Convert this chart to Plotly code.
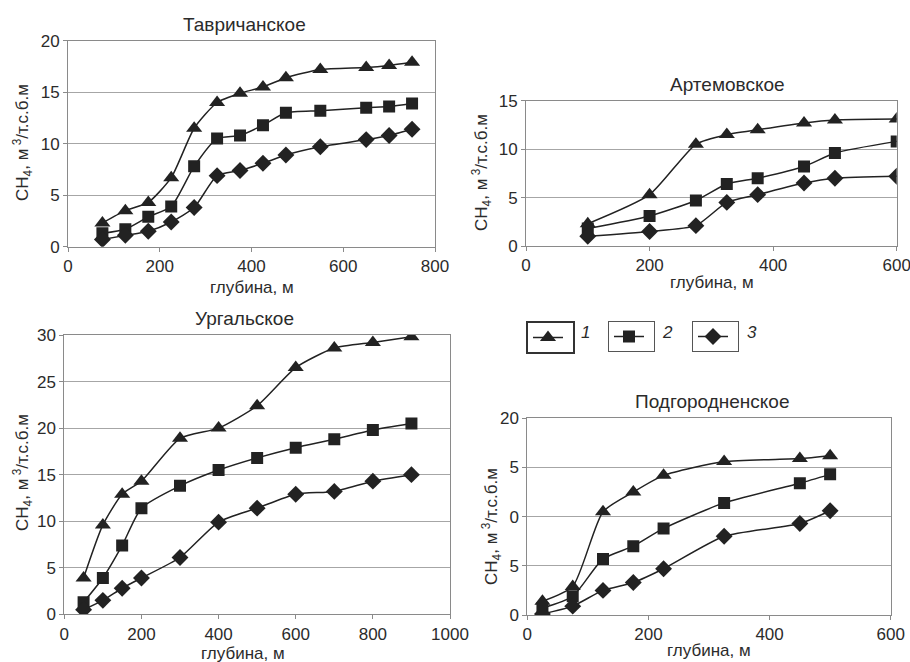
import plotly.graph_objects as go

# ---------------- data ----------------
tav_depth = [75, 125, 175, 225, 275, 325, 375, 425, 475, 550, 650, 700, 750]
tav_1 = [2.3, 3.5, 4.3, 6.7, 11.5, 14.0, 14.9, 15.5, 16.4, 17.2, 17.4, 17.6, 17.9]
tav_2 = [1.3, 1.7, 2.9, 3.9, 7.8, 10.5, 10.8, 11.8, 13.0, 13.2, 13.5, 13.6, 13.9]
tav_3 = [0.7, 1.1, 1.5, 2.4, 3.8, 6.9, 7.4, 8.1, 8.9, 9.7, 10.4, 10.8, 11.4]

art_depth = [100, 200, 275, 325, 375, 450, 500, 600]
art_1 = [2.3, 5.3, 10.5, 11.5, 12.0, 12.7, 13.0, 13.1]
art_2 = [1.8, 3.1, 4.7, 6.4, 7.0, 8.2, 9.6, 10.8]
art_3 = [1.0, 1.5, 2.1, 4.5, 5.3, 6.5, 7.0, 7.2]

urg_depth = [50, 100, 150, 200, 300, 400, 500, 600, 700, 800, 900]
urg_1 = [3.9, 9.6, 12.9, 14.3, 18.9, 20.0, 22.4, 26.5, 28.6, 29.2, 29.8]
urg_2 = [1.3, 3.9, 7.4, 11.4, 13.8, 15.5, 16.8, 17.9, 18.8, 19.8, 20.5]
urg_3 = [0.5, 1.5, 2.8, 3.9, 6.1, 9.9, 11.4, 12.9, 13.2, 14.3, 15.0]

pod_depth = [25, 75, 125, 175, 225, 325, 450, 500]
pod_1 = [1.4, 2.9, 10.5, 12.5, 14.2, 15.6, 15.9, 16.2]
pod_2 = [0.7, 1.9, 5.7, 7.0, 8.8, 11.4, 13.4, 14.3]
pod_3 = [0.1, 0.9, 2.5, 3.3, 4.7, 8.0, 9.3, 10.6]

series_names = ["1", "2", "3"]
titles = ["Тавричанское", "Артемовское", "Ургальское", "Подгородненское"]
x_title = "глубина, м"
y_title = "CH<sub>4</sub>, м<sup> 3</sup>/т.с.б.м"

tav_yticks = [0, 5, 10, 15, 20]
art_yticks = [0, 5, 10, 15]
urg_yticks = [0, 5, 10, 15, 20, 25, 30]
pod_yticks = [0, 5, 10, 15, 20]
pod_yticktext = ["0", "5", "0", "5", "20"]  # clipped labels as in the source

W, H = 910, 662
INK = "#222222"
TXT = "#2b2b2b"
FONT = "Liberation Sans, Arial, sans-serif"

symbols = ["triangle-up", "square", "diamond"]
sizes = [14, 12, 13]

panels = [
    dict(depth=tav_depth, ys=[tav_1, tav_2, tav_3], px=(68, 435), py=(40.7, 246.7),
         xr=[0, 800], xd=200, yr=[0, 20], yt=tav_yticks, ytt=None,
         title_xy=(244, 24), xt_xy=(252, 287), yt_xy=(22, 143)),
    dict(depth=art_depth, ys=[art_1, art_2, art_3], px=(526, 896.7), py=(100.7, 246),
         xr=[0, 600], xd=200, yr=[0, 15], yt=art_yticks, ytt=None,
         title_xy=(727, 84), xt_xy=(712, 283), yt_xy=(481, 173)),
    dict(depth=urg_depth, ys=[urg_1, urg_2, urg_3], px=(64.3, 450), py=(335, 614.3),
         xr=[0, 1000], xd=200, yr=[0, 30], yt=urg_yticks, ytt=None,
         title_xy=(244, 318), xt_xy=(243, 653), yt_xy=(22, 473)),
    dict(depth=pod_depth, ys=[pod_1, pod_2, pod_3], px=(527.3, 890.7), py=(418.3, 615),
         xr=[0, 600], xd=200, yr=[0, 20], yt=pod_yticks, ytt=pod_yticktext,
         title_xy=(712, 401), xt_xy=(709, 650), yt_xy=(491, 527)),
]

fig = go.Figure()
annotations = []
layout_axes = {}

for i, p in enumerate(panels):
    n = i + 1
    xa = "x" if n == 1 else f"x{n}"
    ya = "y" if n == 1 else f"y{n}"
    for k in range(3):
        fig.add_trace(go.Scatter(
            x=p["depth"], y=p["ys"][k], xaxis=xa, yaxis=ya,
            mode="lines+markers", name="",
            line=dict(color=INK, width=1.5, shape="spline", smoothing=0.6),
            marker=dict(symbol=symbols[k], size=sizes[k], color=INK),
            showlegend=(i == 0),
            legend=("legend" if k == 0 else f"legend{k+1}"),
            hoverinfo="x+y",
        ))
    x0, x1 = p["px"]
    yt0, yb0 = p["py"]
    xkey = "xaxis" if n == 1 else f"xaxis{n}"
    ykey = "yaxis" if n == 1 else f"yaxis{n}"
    layout_axes[xkey] = dict(
        domain=[x0 / W, x1 / W], anchor=ya, range=p["xr"], dtick=p["xd"],
        showgrid=False, showline=True, linecolor="#8a8a8a", linewidth=1, mirror=True,
        ticks="outside", ticklen=4, tickcolor="#8a8a8a", zeroline=False,
        tickfont=dict(family=FONT, size=17, color=TXT), fixedrange=True,
        automargin=False, ticklabeloverflow="allow",
    )
    yax = dict(
        domain=[1 - yb0 / H, 1 - yt0 / H], anchor=xa, range=p["yr"],
        tickvals=p["yt"], showgrid=True, gridcolor="#a6a6a6", gridwidth=1,
        showline=True, linecolor="#8a8a8a", linewidth=1, mirror=True,
        ticks="outside", ticklen=4, tickcolor="#8a8a8a", zeroline=False,
        tickfont=dict(family=FONT, size=17, color=TXT), fixedrange=True,
        automargin=False, ticklabeloverflow="allow",
    )
    if p["ytt"] is not None:
        yax["ticktext"] = p["ytt"]
    layout_axes[ykey] = yax

    common = dict(xref="paper", yref="paper", showarrow=False, xanchor="center", yanchor="middle")
    annotations.append(dict(text=titles[i], x=p["title_xy"][0] / W, y=1 - p["title_xy"][1] / H,
                            font=dict(family=FONT, size=19, color=TXT), **common))
    annotations.append(dict(text=x_title, x=p["xt_xy"][0] / W, y=1 - p["xt_xy"][1] / H,
                            font=dict(family=FONT, size=17, color=TXT), **common))
    annotations.append(dict(text=y_title, x=p["yt_xy"][0] / W, y=1 - p["yt_xy"][1] / H,
                            textangle=-90, font=dict(family=FONT, size=17, color=TXT), **common))

# legend labels outside boxes
for lbl, lx in zip(series_names, [585, 667, 752]):
    annotations.append(dict(text=f"<i>{lbl}</i>", x=lx / W, y=1 - 332 / H,
                            xref="paper", yref="paper", showarrow=False,
                            xanchor="center", yanchor="middle",
                            font=dict(family=FONT, size=17, color=TXT)))

leg_common = dict(yanchor="top", xanchor="left", y=1 - 321 / H,
                  bgcolor="white", font=dict(family=FONT, size=10, color=TXT),
                  itemwidth=30, tracegroupgap=0)

fig.update_layout(
    width=W, height=H, autosize=False,
    margin=dict(l=0, r=0, t=0, b=0, pad=0, autoexpand=False),
    paper_bgcolor="white", plot_bgcolor="white",
    font=dict(family=FONT, color=TXT),
    annotations=annotations,
    legend=dict(x=526 / W, bordercolor="#333333", borderwidth=2, **leg_common),
    legend2=dict(x=608 / W, bordercolor="#555555", borderwidth=1, **leg_common),
    legend3=dict(x=692 / W, bordercolor="#555555", borderwidth=1, **leg_common),
    **layout_axes,
)

fig.write_html(
    "out.html",
    config={"responsive": False, "displayModeBar": False},
    post_script="document.body.style.margin='0';document.body.style.padding='0';document.body.style.overflow='hidden';",
)
